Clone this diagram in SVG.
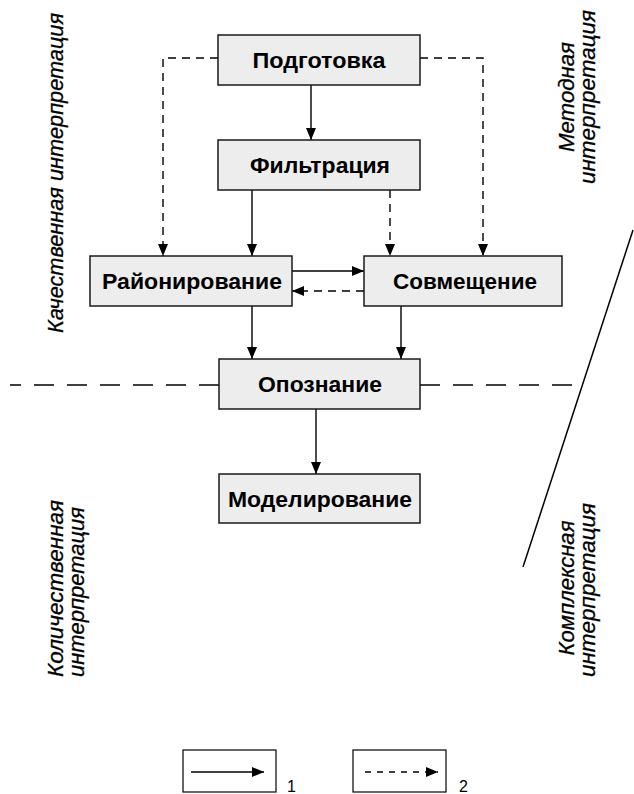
<svg xmlns="http://www.w3.org/2000/svg" width="634" height="794" viewBox="0 0 634 794">
<defs>
<marker id="ah" markerUnits="userSpaceOnUse" markerWidth="13" markerHeight="11" refX="12" refY="5" orient="auto">
<path d="M0,0 L12,5 L0,10 z" fill="#000"/>
</marker>
<style>
.box{fill:#ededed;stroke:#1a1a1a;stroke-width:1.5}
.lbl{font-family:"Liberation Sans",Arial,sans-serif;font-weight:bold;font-size:22px;fill:#000;text-anchor:middle}
.side{font-family:"Liberation Sans",Arial,sans-serif;font-style:italic;font-size:22px;fill:#000;stroke:#000;stroke-width:0.3}
.solid{fill:none;stroke:#000;stroke-width:1.4}
.dash{fill:none;stroke:#000;stroke-width:1.4;stroke-dasharray:8,6}
.sep{fill:none;stroke:#000;stroke-width:1.5;stroke-dasharray:20,13}
.leg{fill:#fff;stroke:#000;stroke-width:1.2}
.num{font-family:"Liberation Sans",Arial,sans-serif;font-size:16px;fill:#000}
</style>
</defs>
<rect width="634" height="794" fill="#fff"/>

<g id="connectors">
<path class="solid" d="M311,85 V140" marker-end="url(#ah)"/>
<path class="dash" d="M218,58 H163 V256" marker-end="url(#ah)"/>
<path class="dash" d="M420,58 H483 V256" marker-end="url(#ah)"/>
<path class="solid" d="M252,190 V256" marker-end="url(#ah)"/>
<path class="dash" d="M390,190 V256" marker-end="url(#ah)"/>
<path class="solid" d="M292,271 H364" marker-end="url(#ah)"/>
<path class="dash" d="M364,291 H292" marker-end="url(#ah)"/>
<path class="solid" d="M252,306 V359" marker-end="url(#ah)"/>
<path class="solid" d="M401,306 V359" marker-end="url(#ah)"/>
<path class="solid" d="M316,409 V474" marker-end="url(#ah)"/>
</g>

<g id="boundaries">
<path class="sep" d="M219,385 H10"/>
<path class="sep" d="M420,385 H583"/>
<path d="M633,230 L523,567" fill="none" stroke="#000" stroke-width="1.5"/>
</g>

<g id="n-podgotovka"><rect class="box" x="218" y="35" width="202" height="50"/><text class="lbl" x="319" y="68" textLength="133" lengthAdjust="spacingAndGlyphs">Подготовка</text></g>
<g id="n-filtratsiya"><rect class="box" x="218" y="140" width="202" height="50"/><text class="lbl" x="320" y="173" textLength="140" lengthAdjust="spacingAndGlyphs">Фильтрация</text></g>
<g id="n-rayonirovanie"><rect class="box" x="90" y="256" width="202" height="50"/><text class="lbl" x="192" y="289" textLength="180" lengthAdjust="spacingAndGlyphs">Районирование</text></g>
<g id="n-sovmeshchenie"><rect class="box" x="364" y="256" width="198" height="50"/><text class="lbl" x="465" y="289" textLength="144" lengthAdjust="spacingAndGlyphs">Совмещение</text></g>
<g id="n-opoznanie"><rect class="box" x="219" y="359" width="201" height="50"/><text class="lbl" x="320" y="392" textLength="124" lengthAdjust="spacingAndGlyphs">Опознание</text></g>
<g id="n-modelirovanie"><rect class="box" x="219" y="474" width="201" height="49"/><text class="lbl" x="320" y="507" textLength="184" lengthAdjust="spacingAndGlyphs">Моделирование</text></g>

<g id="zone-labels">
<text class="side" transform="translate(63,333) rotate(-90)" textLength="320" lengthAdjust="spacingAndGlyphs">Качественная  интерпретация</text>
<text class="side" transform="translate(574,97) rotate(-90)" text-anchor="middle" textLength="110" lengthAdjust="spacingAndGlyphs">Методная</text>
<text class="side" transform="translate(595,97) rotate(-90)" text-anchor="middle" textLength="174" lengthAdjust="spacingAndGlyphs">интерпретация</text>
<text class="side" transform="translate(63,677) rotate(-90)" textLength="177" lengthAdjust="spacingAndGlyphs">Количественная</text>
<text class="side" transform="translate(84,677) rotate(-90)" textLength="170" lengthAdjust="spacingAndGlyphs">интерпретация</text>
<text class="side" transform="translate(574,588) rotate(-90)" text-anchor="middle" textLength="135" lengthAdjust="spacingAndGlyphs">Комплексная</text>
<text class="side" transform="translate(595,590) rotate(-90)" text-anchor="middle" textLength="174" lengthAdjust="spacingAndGlyphs">интерпретация</text>
</g>

<g id="legend">
<rect class="leg" x="183" y="750" width="93" height="42"/>
<path class="solid" d="M191,772 H264" marker-end="url(#ah)"/>
<text class="num" x="287" y="792">1</text>
<rect class="leg" x="353" y="750" width="93" height="42"/>
<path class="dash" d="M365,772 H438" style="stroke-dasharray:6,6" marker-end="url(#ah)"/>
<text class="num" x="459" y="792">2</text>
</g>
</svg>
